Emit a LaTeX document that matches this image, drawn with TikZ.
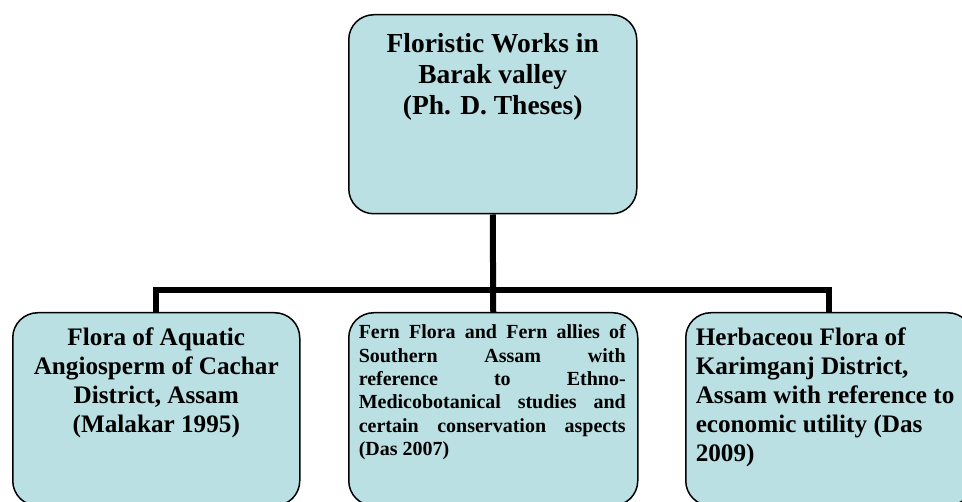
\documentclass[tikz,border=0pt]{standalone}
\usepackage{fontspec}
\setmainfont{Liberation Serif}
\definecolor{boxfill}{RGB}{187,224,227}
\tikzset{
  box/.style={draw=black, line width=1.5pt, fill=boxfill, rounded corners=25pt, inner sep=0pt, anchor=north west},
  link/.style={draw=black, line width=6pt, line join=miter}
}
\begin{document}
\begin{tikzpicture}[x=1pt,y=-1pt]
\useasboundingbox (0,0) rectangle (962,502);
\clip (0,0) rectangle (962,502);
\node[box] (top) at (348,14) {\begin{minipage}[t][199pt][t]{288pt}\centering\fontsize{27.5pt}{31pt}\selectfont\bfseries
\rule{0pt}{38pt}Floristic Works in\\Barak valley\\(Ph. D. Theses)\end{minipage}};
\node[box] (left) at (12,312) {\begin{minipage}[t][193pt][t]{287pt}\centering\fontsize{25.2pt}{29pt}\selectfont\bfseries
\rule{0pt}{33pt}Flora of Aquatic\\Angiosperm of Cachar\\District, Assam\\(Malakar 1995)\end{minipage}};
\node[box] (mid) at (348,312) {\begin{minipage}[t][193pt][t]{289pt}\raggedright\leftskip=10pt\fontsize{20pt}{23.4pt}\selectfont\bfseries
\rule{0pt}{26pt}\makebox[267pt][s]{Fern Flora and Fern allies of}\\
\makebox[267pt][s]{Southern Assam with}\\
\makebox[267pt][s]{reference to Ethno-}\\
\makebox[267pt][s]{Medicobotanical studies and}\\
\makebox[267pt][s]{certain conservation aspects}\\
(Das 2007)\end{minipage}};
\node[box] (right) at (685,312) {\begin{minipage}[t][193pt][t]{287pt}\raggedright\leftskip=10pt\fontsize{25.2pt}{29pt}\selectfont\bfseries
\rule{0pt}{33pt}Herbaceou Flora of\\Karimganj District,\\Assam with reference to\\economic utility (Das\\2009)\end{minipage}};
\coordinate (bus) at (492,290);
\draw[link] (top.south) -- (mid.north);
\draw[link] (left.north) -- (left.north |- bus) -- (right.north |- bus) -- (right.north);
\end{tikzpicture}
\end{document}
